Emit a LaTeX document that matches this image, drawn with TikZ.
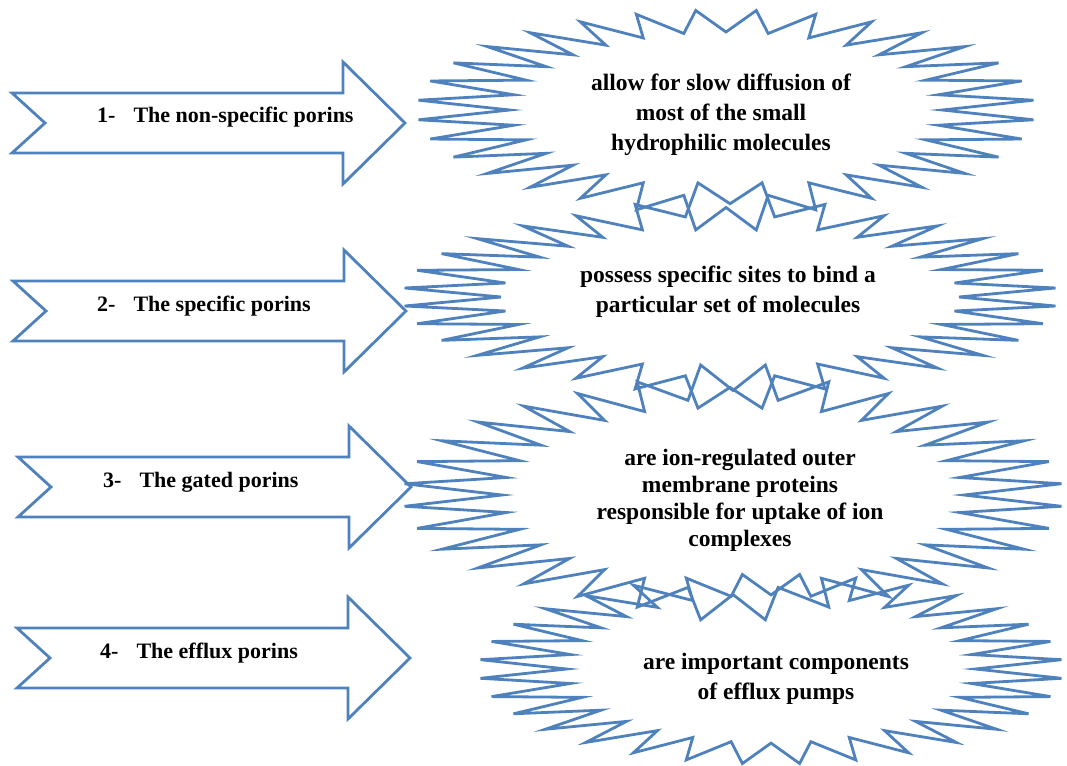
\documentclass[tikz,border=0pt]{standalone}
\usepackage{fontspec}
\setmainfont{Liberation Serif}
\definecolor{porinblue}{RGB}{79,129,189}
\tikzset{
  x=1pt, y=-1pt,
  porinline/.style={draw=porinblue, line width=2.8pt},
  arrowtext/.style={font=\bfseries\fontsize{22}{26}\selectfont, anchor=base west, inner sep=0pt},
  bursttext/.style={font=\bfseries\fontsize{23.5}{30}\selectfont, align=center, inner sep=0pt}
}
% notched arrow: tail x, centre y
\newcommand{\porinarrow}[2]{%
  \draw[porinline] (#1,#2-30) -- (#1+331,#2-30) -- (#1+331,#2-61) -- (#1+393,#2)
    -- (#1+331,#2+61) -- (#1+331,#2+30) -- (#1,#2+30) -- (#1+33,#2) -- cycle;
}
% 32-point burst: centre x, centre y, half width, half height, top bulge, bottom bulge
\newcommand{\burst}[6]{%
  \draw[porinline] ({#1+0.7*#3},#2) \foreach \k in {1,...,63} {
    -- ({#1+#3*(1-0.30*mod(\k+1,2))*cos(5.625*\k)},
        {#2+#4*(1-0.22*mod(\k+1,2))*sin(5.625*\k)*(1+(#5+(#6-#5)*(sin(5.625*\k)>0))*(sin(5.625*\k))^40)})
  } -- cycle;
}
\begin{document}
\begin{tikzpicture}
  \useasboundingbox (0,0) rectangle (1067,765);
  % arrows on the left
  \porinarrow{12}{123}
  \porinarrow{13}{311}
  \porinarrow{18}{487}
  \porinarrow{17}{658}
  \node[arrowtext] (nonspecific) at (97,123) {1-\hspace{18pt}The non-specific porins};
  \node[arrowtext] (specific) at (97,311) {2-\hspace{18pt}The specific porins};
  \node[arrowtext] (gated) at (103,487) {3-\hspace{18pt}The gated porins};
  \node[arrowtext] (efflux) at (100,658) {4-\hspace{18pt}The efflux porins};
  % bursts on the right
  \burst{726}{110}{309}{100}{0}{0.25}
  \burst{730}{297}{327}{92}{0.30}{0.26}
  \burst{733}{495}{330}{115}{0.165}{0.11}
  \burst{771}{669}{292}{95}{0}{0}
  \node[bursttext] (diffusion) at (721,115) {allow for slow diffusion of\\most of the small\\hydrophilic molecules};
  \node[bursttext] (sites) at (728,292) {possess specific sites to bind a\\particular set of molecules};
  \node[bursttext, font=\bfseries\fontsize{23.5}{27}\selectfont] (uptake) at (740,500)
    {are ion-regulated outer\\membrane proteins\\responsible for uptake of ion\\complexes};
  \node[bursttext] (pumps) at (776,679) {are important components\\of efflux pumps};
\end{tikzpicture}
\end{document}
